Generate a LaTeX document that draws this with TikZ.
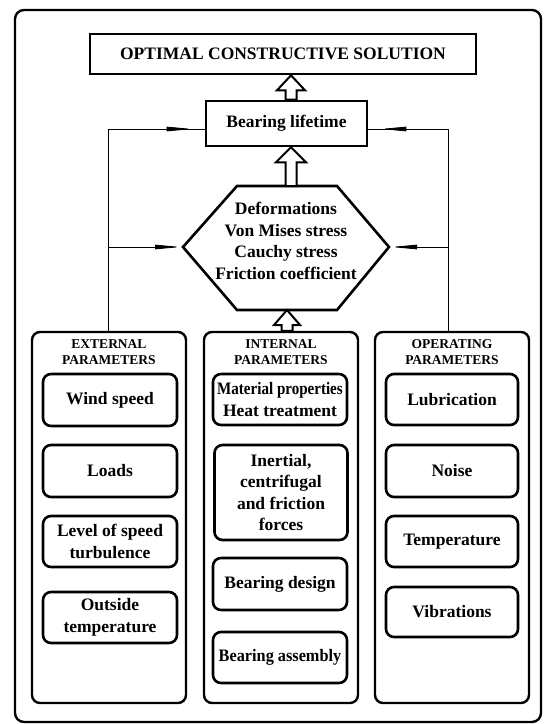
\documentclass[tikz,border=0pt]{standalone}
\usepackage{graphicx}
\usepackage{fontspec}
\setmainfont{Liberation Serif}
\usetikzlibrary{calc,arrows.meta}
\newcommand\mainfnt{\fontsize{17.5}{21.5}\selectfont\bfseries}
\newcommand\hdrfnt{\fontsize{13.5}{16}\selectfont\bfseries}
\newcommand\hollowarrow[3]{% #1 tip, #2 base, #3 half head width
  \draw[hollow] ($(#2)+(-5.5,0)$) -- ($(#1)+(-5.5,15)$) -- ($(#1)+(-#3,15)$) -- (#1)
    -- ($(#1)+(#3,15)$) -- ($(#1)+(5.5,15)$) -- ($(#2)+(5.5,0)$) -- cycle;}
\begin{document}
\begin{tikzpicture}[x=1pt,y=-1pt,
  box/.style={draw, line width=2.6pt, inner sep=0pt, align=center, font=\mainfnt},
  rbox/.style={box, rounded corners=8pt, minimum height=52pt},
  grp/.style={draw, line width=2.4pt, rounded corners=8pt, minimum width=154pt, minimum height=371pt},
  hdr/.style={inner sep=0pt, align=center, font=\hdrfnt},
  hollow/.style={draw, line width=2pt, fill=white, line join=miter},
  thinl/.style={line width=0.8pt},
  wedge/.style={-{Triangle[length=26pt,width=4.5pt]}}
]
\useasboundingbox (0,0) rectangle (544,724);
\fill[white] (0,0) rectangle (544,724);
% outer frame
\draw[line width=2.4pt, rounded corners=9pt] (15,10) rectangle (541,722);

% top boxes
\node[box, minimum width=386pt, minimum height=40pt] (top) at (283,54) {OPTIMAL CONSTRUCTIVE SOLUTION};
\node[box, minimum width=161pt, minimum height=45pt] (bear) at (286.5,123.5) {Bearing lifetime};

% hexagon
\coordinate (hexL) at (183,247);
\coordinate (hexR) at (389,247);
\coordinate (hexT) at (287,186);
\coordinate (hexB) at (287,310);
\draw[line width=2.6pt, line join=miter] (hexL) -- (237,186) -- (337,186) -- (hexR)
  -- (337,310) -- (237,310) -- cycle;
\node[inner sep=0pt, align=center, font=\mainfnt] (hex) at (286,241)
  {Deformations\\Von Mises stress\\Cauchy stress\\Friction coefficient};

% group boxes
\node[grp] (ext) at (109,517.5) {};
\node[grp] (int) at (281,517.5) {};
\node[grp] (op)  at (452,517.5) {};
\node[hdr] (exth) at (109,352) {EXTERNAL\\PARAMETERS};
\node[hdr] (inth) at (281,352) {INTERNAL\\PARAMETERS};
\node[hdr] (oph)  at (452,352) {OPERATING\\PARAMETERS};

% external parameters
\node[rbox, minimum width=134pt] (wind)  at (110,400)   {Wind speed};
\node[rbox, minimum width=134pt] (loads) at (110,471)   {Loads};
\node[rbox, minimum width=134pt, minimum height=51pt] (turb) at (110,541.5) {Level of speed\\turbulence};
\node[rbox, minimum width=134pt, minimum height=51pt] (outt) at (110,617.5) {Outside\\temperature};

% internal parameters
\node[rbox, minimum width=134pt, minimum height=51pt] (mat) at (280,399.5)
  {\scalebox{0.86}[1]{Material properties}\\Heat treatment};
\node[rbox, minimum width=133pt, minimum height=95pt] (iner) at (281,492.5)
  {Inertial,\\centrifugal\\and friction\\forces};
\node[rbox, minimum width=134pt] (bdes) at (280,584) {Bearing design};
\node[rbox, minimum width=134pt, minimum height=51pt] (bass) at (280,657.5)
  {\scalebox{0.93}[1]{Bearing assembly}};

% operating parameters
\node[rbox, minimum width=132pt, minimum height=51pt] (lub) at (452,399.5) {Lubrication};
\node[rbox, minimum width=132pt] (noise) at (452,471) {Noise};
\node[rbox, minimum width=132pt, minimum height=51pt] (temp) at (452,541.5) {Temperature};
\node[rbox, minimum width=132pt, minimum height=50pt] (vib) at (452,612) {Vibrations};

% hollow arrows
\coordinate (ax1) at (291,0);
\coordinate (ax2) at (287,0);
\coordinate (a1t) at (top.south -| ax1);
\coordinate (a1b) at (bear.north -| ax1);
\coordinate (a2t) at (bear.south -| ax1);
\coordinate (a2b) at (hexT -| ax1);
\coordinate (a3t) at (hexB -| ax2);
\coordinate (a3b) at (int.north -| ax2);
\hollowarrow{a1t}{a1b}{14}
\hollowarrow{a2t}{a2b}{15}
\hollowarrow{a3t}{a3b}{13}

% feedback connectors
\coordinate (lx) at (108,0);
\coordinate (rx) at (448,0);
\coordinate (bwl) at ($(bear.west)+(0,5.5)$);
\coordinate (bwr) at ($(bear.east)+(0,5.5)$);
\draw[thinl] (ext.north -| lx) -- (lx |- bwl) -- (bwl);
\draw[thinl, wedge, shorten >=12pt] (lx |- bwl) -- (bwl);
\draw[thinl, wedge, shorten >=2pt] (lx |- hexL) -- (hexL);
\draw[thinl] (op.north -| rx) -- (rx |- bwr) -- (bwr);
\draw[thinl, wedge, shorten >=12pt] (rx |- bwr) -- (bwr);
\draw[thinl, wedge, shorten >=2pt] (rx |- hexR) -- (hexR);
\end{tikzpicture}
\end{document}
